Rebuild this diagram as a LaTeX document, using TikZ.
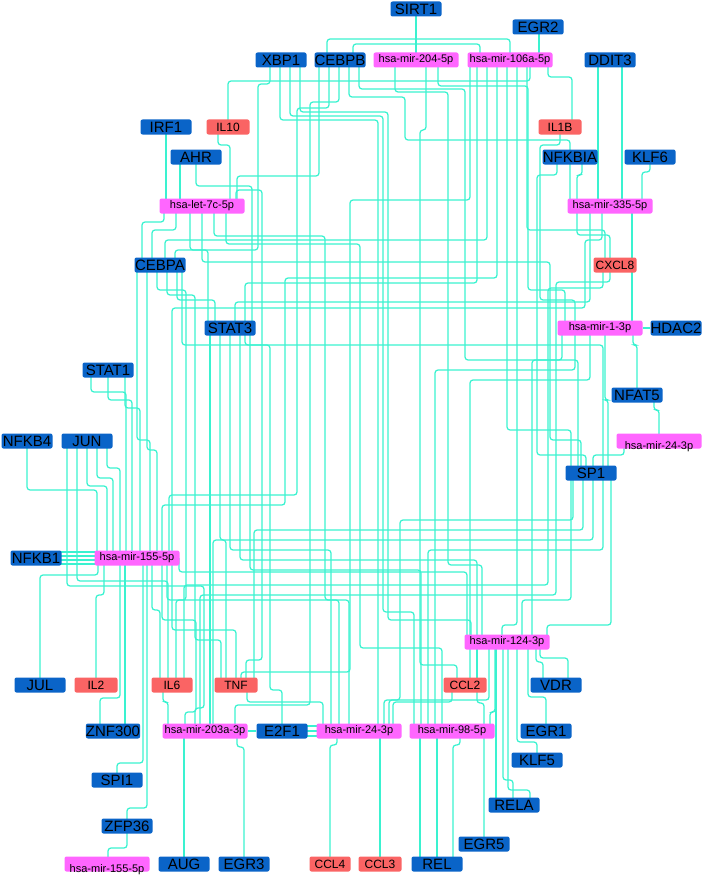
\documentclass[tikz,border=0pt]{standalone}
\usepackage{fontspec}
\setmainfont{Liberation Sans}
\usetikzlibrary{backgrounds}

\definecolor{tfblue}{RGB}{10,100,200}
\definecolor{genered}{RGB}{250,100,100}
\definecolor{mirpink}{RGB}{255,102,255}
\definecolor{linkcyan}{RGB}{58,242,208}

\tikzset{
  box/.style={rectangle,rounded corners=2pt,inner sep=0pt,minimum height=15pt,text=black},
  tf/.style={box,fill=tfblue,minimum width=51pt,font=\fontsize{15}{15}\selectfont},
  mir/.style={box,fill=mirpink,minimum width=85pt,font=\fontsize{11}{11}\selectfont},
  gene/.style={box,fill=genered,minimum width=43pt,font=\fontsize{12}{12}\selectfont},
  link/.style={draw=linkcyan,line width=1.25pt,rounded corners=3pt}
}

\begin{document}
\begin{tikzpicture}[x=1pt,y=-1pt]
  \useasboundingbox (0,0) rectangle (703,880);

  % top row
  \node [tf] (sirt1) at (416,9) {SIRT1};
  \node [tf] (egr2) at (538,27) {EGR2};
  \node [tf] (xbp1) at (281,60) {XBP1};
  \node [tf] (cebpb) at (340,60) {CEBPB};
  \node [mir] (m204) at (416,60) {hsa-mir-204-5p};
  \node [mir] (m106a) at (510,60) {hsa-mir-106a-5p};
  \node [tf] (ddit3) at (610,60) {DDIT3};
  \node [tf] (irf1) at (166,127) {IRF1};
  \node [gene] (il10) at (228,127) {IL10};
  \node [gene] (il1b) at (560,127) {IL1B};
  \node [tf] (ahr) at (196,157) {AHR};
  \node [tf,minimum width=55pt] (nfkbia) at (570,157) {NFKBIA};
  \node [tf] (klf6) at (650,157) {KLF6};
  \node [mir] (let7c) at (202,206) {hsa-let-7c-5p};
  \node [mir] (m335) at (610,206) {hsa-mir-335-5p};

  % middle
  \node [tf] (cebpa) at (160,265) {CEBPA};
  \node [gene] (cxcl8) at (615,265) {CXCL8};
  \node [tf] (stat3) at (230,328) {STAT3};
  \node [mir] (m1) at (600,328) {hsa-mir-1-3p};
  \node [tf] (hdac2) at (676,328) {HDAC2};
  \node [tf] (stat1) at (108,370) {STAT1};
  \node [tf] (nfat5) at (637,395) {NFAT5};
  \node [mir] (m24r) at (659,441) {\smash{\raisebox{-8pt}{hsa-mir-24-3p}}};
  \node [tf] (nfkb4) at (27,441) {NFKB4};
  \node [tf] (jun) at (87,441) {JUN};
  \node [tf] (sp1) at (591,473) {SP1};
  \node [tf] (nfkb1) at (36,558) {NFKB1};
  \node [mir] (m155) at (137,558) {hsa-mir-155-5p};
  \node [mir] (m124) at (507,642) {hsa-mir-124-3p};

  % bottom
  \node [tf] (jul) at (40,685) {JUL};
  \node [gene] (il2) at (96,685) {IL2};
  \node [gene,minimum width=41pt] (il6) at (172,685) {IL6};
  \node [gene] (tnf) at (236,685) {TNF};
  \node [gene] (ccl2) at (465,685) {CCL2};
  \node [tf] (vdr) at (556,685) {VDR};
  \node [tf] (znf300) at (113,731) {ZNF300};
  \node [mir] (m203) at (205,731) {hsa-mir-203a-3p};
  \node [tf] (e2f1) at (282,731) {E2F1};
  \node [mir] (m24) at (359,731) {hsa-mir-24-3p};
  \node [mir] (m98) at (452,731) {hsa-mir-98-5p};
  \node [tf] (egr1) at (546,731) {EGR1};
  \node [tf] (klf5) at (537,760) {KLF5};
  \node [tf] (spi1) at (117,780) {SPI1};
  \node [tf] (rela) at (514,805) {RELA};
  \node [tf] (zfp36) at (127,826) {ZFP36};
  \node [tf] (egr5) at (484,844) {EGR5};
  \node [mir] (m155b) at (107,864) {\smash{\raisebox{-8pt}{hsa-mir-155-5p}}};
  \node [tf] (aug) at (184,864) {AUG};
  \node [tf] (egr3) at (244,864) {EGR3};
  \node [gene,minimum width=41pt] (ccl4) at (330,864) {CCL4};
  \node [gene] (ccl3) at (380,864) {CCL3};
  \node [tf] (rel) at (437,864) {REL};

  \begin{scope}[on background layer]
    % one bend channel: from/shift/to/shift/channel y
    \foreach \a/\da/\b/\db/\y in {
      sirt1/0/m204/0/40, cebpb/-13/m106a/0/39, cebpb/13/m106a/-30/44,
      egr2/1/m106a/29/40, il1b/12/m106a/38/77, il10/0/m106a/20/81,
      ddit3/-12/m335/-12/130, ddit3/12/m335/12/130, klf6/0/m335/32/172,
      nfkbia/12/m335/-33/175, irf1/0/let7c/-36/170, ahr/-16/let7c/-22/180,
      il10/-10/let7c/28/145, ahr/0/stat3/22/186, m1/33/nfat5/0/345,
      nfat5/17/m24r/0/410, m335/22/m1/32/222, m24r/-35/sp1/2/455,
      nfkb4/0/m155/-40/490, jun/0/m155/-30/486, jun/10/m155/-24/478,
      jun/20/m155/-17/468, stat1/-17/m155/-11/392, stat1/0/m155/-5/400,
      stat1/17/m155/3/408, jul/0/m155/-39/575, il2/0/m155/-33/595,
      znf300/-13/m155/-17/698, znf300/12/m155/-12/650, spi1/0/m155/6/763,
      zfp36/0/m155/10/808, m155b/1/zfp36/0/848, m155/15/il6/-12/610,
      m155/35/tnf/0/630, m155/42/m124/-40/572, m155/30/m24/-10/600,
      jun/-10/il6/-4/581, il6/-9/m203/-37/702, m203/-21/aug/0/800,
      egr3/0/m203/32/747, tnf/11/m24/-36/702, ccl4/0/m24/-22/745,
      ccl3/0/m24/21/760, ccl2/-13/m24/34/702, ccl2/12/egr5/0/703,
      rel/-17/m98/-32/790, rel/0/m98/-15/790, rel/16/m98/8/745,
      vdr/-13/m124/29/662, vdr/12/m124/33/658, egr1/0/m124/21/697,
      klf5/0/m124/10/742, rela/-18/m124/-11/785, rela/-1/m124/-4/780,
      rela/16/m124/1/790, stat3/-20/m203/5/705, stat3/-10/tnf/-10/540,
      stat3/0/m24/-28/550, stat3/10/m124/-30/560, stat3/20/m98/-31/570,
      cebpa/-23/m155/13/440, cebpa/-13/m155/20/450, cebpa/17/stat3/-15/300,
      cebpa/22/sp1/12/345, let7c/-38/cebpa/-18/222, let7c/-26/cebpa/-8/230,
      let7c/-12/stat3/-22/250, cebpb/-21/let7c/35/176, m106a/-33/stat3/15/283,
      m106a/-23/cebpa/5/240, m106a/-3/sp1/-20/430, m106a/7/m124/-5/625,
      m106a/17/cxcl8/-10/230, m335/-33/cxcl8/-5/235, m335/-20/stat3/5/302,
      m1/-38/m124/25/360, m1/-25/m98/-17/370, m1/-10/ccl2/5/380,
      m1/5/sp1/17/400, sp1/-20/m124/15/600, sp1/-8/tnf/18/530,
      sp1/2/m203/8/540, sp1/12/m98/-24/550, sp1/20/m124/40/625,
      m124/-18/m24/30/700, m124/-30/ccl2/12/660, m124/-12/m98/38/712}
      \draw [link] ([xshift=\da]\a.center) -- ([xshift=\da]\a.center |- 0,\y) -| ([xshift=\db]\b.center);

    % two bend channels: from/shift/y/x/y/to/shift
    \foreach \a/\da/\ya/\xm/\yb/\b/\db in {
      xbp1/-11/84/258/250/cebpa/15, xbp1/-1/120/378/705/m24/19,
      xbp1/9/116/383/612/m98/-38, xbp1/19/112/388/620/m124/-36,
      cebpb/-11/108/297/495/m155/32, cebpb/-1/102/310/705/m203/30,
      cebpb/9/97/405/140/m335/-40, cebpb/19/89/465/360/sp1/-13,
      m204/-21/92/448/565/m124/-25, m204/22/86/528/290/m1/-35,
      m204/10/130/420/665/ccl2/-8, m106a/-13/278/285/505/m155/25,
      m106a/-40/200/350/672/tnf/5, il1b/0/145/540/300/m1/-25,
      nfkbia/-13/175/537/455/sp1/-5, m335/-8/240/585/308/m155/35,
      cxcl8/-12/288/548/585/il6/12, cxcl8/-5/282/556/595/m203/-5,
      let7c/0/262/550/440/sp1/-10, let7c/12/236/325/600/m24/-20,
      let7c/24/244/360/648/m98/-10, let7c/34/190/262/660/tnf/10,
      cebpa/-3/290/186/600/il6/4, cebpa/7/295/195/640/tnf/-15,
      m155/25/620/196/712/m203/-20, jun/-20/586/204/708/m203/-10,
      sp1/-18/520/400/700/m24/25, e2f1/0/690/270/345/stat3/15}
      \draw [link] ([xshift=\da]\a.center) -- ([xshift=\da]\a.center |- 0,\ya)
        -- (\xm,\ya) -- (\xm,\yb) -| ([xshift=\db]\b.center);

    % side by side
    \draw [link] (hdac2) -- (m1);
    \draw [link] (e2f1) -- (m203);
    \foreach \s in {-5,0,5}
      \draw [link] ([yshift=\s]e2f1.center) -- ([yshift=\s]m24.center);
    \foreach \s in {-6,-2,2,6}
      \draw [link] ([yshift=\s]nfkb1.center) -- ([yshift=\s]m155.center);
  \end{scope}
\end{tikzpicture}
\end{document}
